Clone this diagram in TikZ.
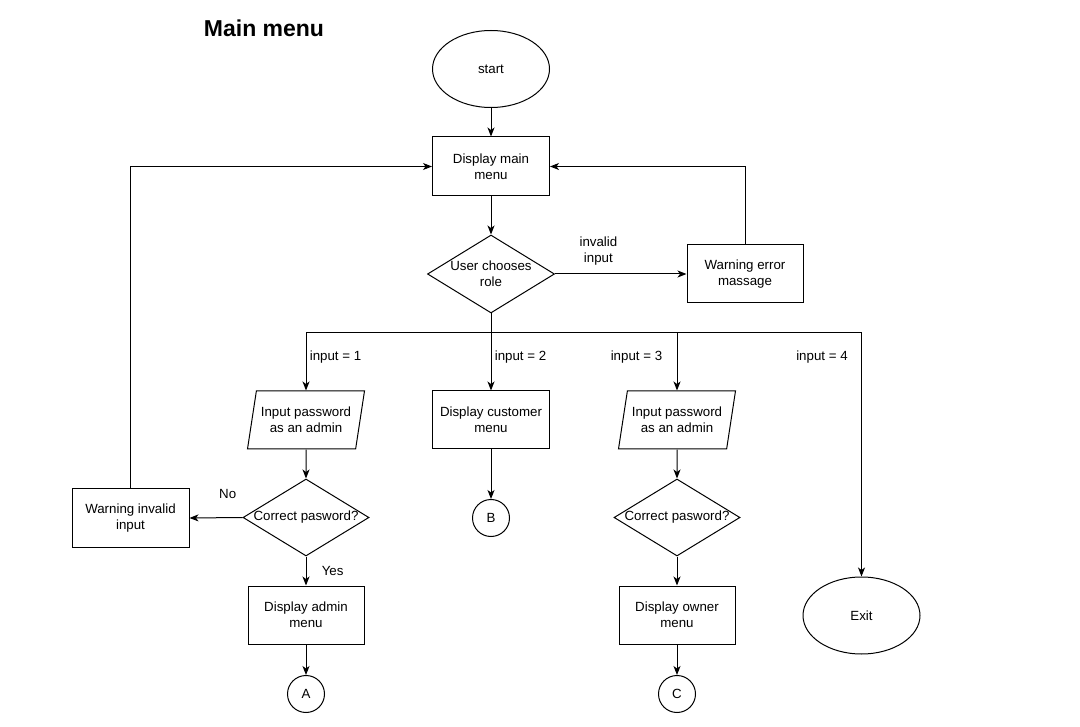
\documentclass[tikz,border=0pt]{standalone}
\usepackage{fontspec}
\setmainfont{Liberation Sans}
\usepackage{tikz}
\usetikzlibrary{arrows.meta,shapes.geometric}

\begin{document}
\begin{tikzpicture}[x=1pt,y=-1pt,line width=1pt,
  font=\fontsize{13.3}{16}\selectfont,
  term/.style={draw,ellipse,minimum width=117pt,minimum height=77pt},
  proc/.style={draw,rectangle,align=center,minimum width=117pt,minimum height=59pt},
  io/.style={draw,trapezium,trapezium left angle=71,trapezium right angle=109,
    trapezium stretches body,align=center,inner sep=0pt,
    minimum width=117pt,minimum height=58pt},
  decide/.style={draw,diamond,minimum width=127pt,minimum height=78pt,inner sep=0pt},
  conn/.style={draw,circle,minimum size=37pt,inner sep=0pt},
  flow/.style={-{Stealth[length=9pt,width=7pt,inset=2.5pt]}}]
  \useasboundingbox (0,0) rectangle (1080,727);
  \node[font=\bfseries\fontsize{23}{27}\selectfont] (title) at (264,28) {Main menu};
  % Main loop
  \node[term] (start) at (491,69) {start};
  \node[proc] (main) at (491,166.5) {Display main\\menu};
  \node[decide,label={[align=center]center:User chooses\\role}] (role) at (491,274) {};
  \node[proc,minimum width=116pt,minimum height=58pt] (err) at (745,274) {Warning error\\massage};
  \coordinate (split) at (491,333);
  % Admin
  \node[io] (pass1) at (306,420) {Input password\\as an admin};
  \node[decide,minimum width=126pt,minimum height=77pt,label=center:Correct pasword?] (pw1) at (306,517.5) {};
  \node[proc] (inv) at (130.5,518) {Warning invalid\\input};
  \node[proc,minimum width=116pt,minimum height=58pt] (admin) at (306,615) {Display admin\\menu};
  \node[conn] (A) at (306,694) {A};
  % Customer
  \node[proc,minimum height=58pt] (cust) at (491,420) {Display customer\\menu};
  \node[conn] (B) at (491,518) {B};
  % Owner
  \node[io] (pass2) at (677,420) {Input password\\as an admin};
  \node[decide,minimum width=126pt,minimum height=77pt,label=center:Correct pasword?] (pw2) at (677,517.5) {};
  \node[proc,minimum width=116pt,minimum height=58pt] (owner) at (677,615) {Display owner\\menu};
  \node[conn] (C) at (677,694) {C};
  % Exit
  \node[term] (exit) at (861.5,615.5) {Exit};

  \draw[flow] (start) -- (main);
  \draw[flow] (main) -- (role);
  \draw[flow] (role) -- node[pos=0.33,above=5pt,align=center] (badlbl) {invalid\\input} (err);
  \draw[flow] (err.north) |- (main.east);
  \draw (role.south) -- (split);
  \draw[flow] (split) -| node[pos=0.707,right] (in1) {input = 1} (pass1.north);
  \draw[flow] (split) -- node[pos=0.414,right] (in2) {input = 2} (cust.north);
  \draw[flow] (split) -| node[pos=0.707,left=11pt] (in3) {input = 3} (pass2.north);
  \draw[flow] (split) -| node[pos=0.549,left=10pt] (in4) {input = 4} (exit.north);
  % Admin branch
  \draw[flow] (pass1) -- (pw1);
  \draw[flow] (pw1.west) -- node[pos=0.28,above=15pt] (nolbl) {No} (inv.east);
  \draw[flow] (inv.north) |- (main.west);
  \draw[flow] (pw1) -- node[right=12pt] (yeslbl) {Yes} (admin);
  \draw[flow] (admin) -- (A);
  % Customer and owner branches
  \draw[flow] (cust) -- (B);
  \draw[flow] (pass2) -- (pw2);
  \draw[flow] (pw2) -- (owner);
  \draw[flow] (owner) -- (C);
\end{tikzpicture}
\end{document}
